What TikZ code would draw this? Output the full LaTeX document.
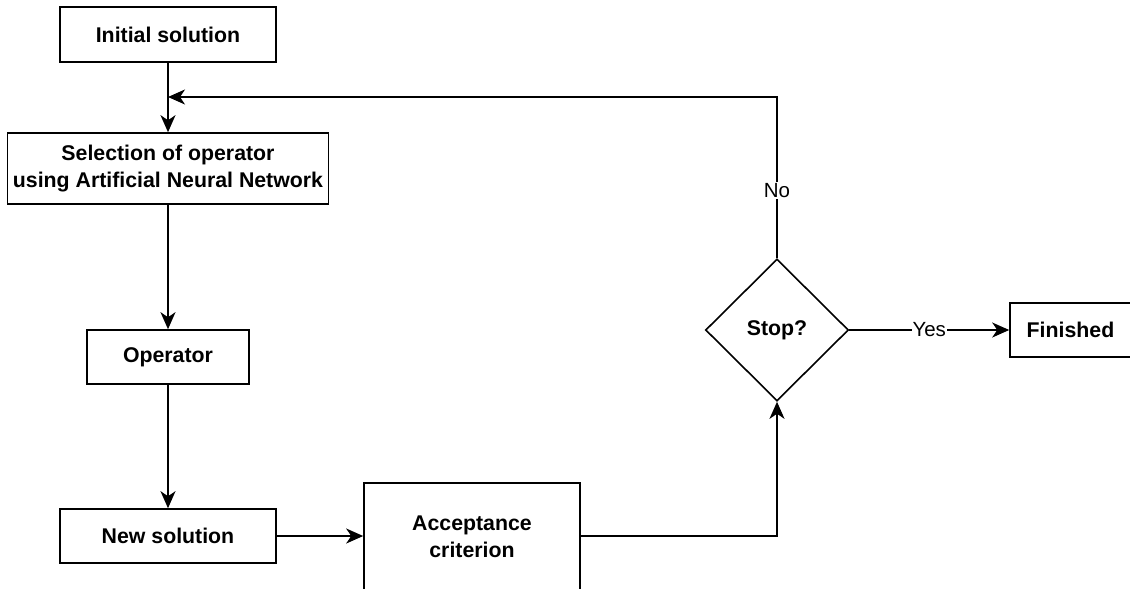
\documentclass[tikz,border=0pt]{standalone}
\usepackage{fontspec}
\setmainfont{Liberation Sans}
\usetikzlibrary{shapes.geometric,arrows.meta}
\begin{document}
\begin{tikzpicture}[x=1pt,y=-1pt,
  box/.style={draw=black,line width=1.6pt,fill=white,inner sep=0pt,align=center,
    font=\fontsize{21.3}{27}\selectfont\bfseries},
  decision/.style={diamond,draw=black,line width=1.6pt,fill=white,inner sep=0pt,
    minimum width=143pt,minimum height=142pt,font=\fontsize{21.3}{27}\selectfont\bfseries},
  conn/.style={line width=1.6pt,-{Stealth[length=17pt,width=15pt,inset=5pt]}},
  lbl/.style={fill=white,inner sep=1pt,font=\fontsize{20.5}{24}\selectfont}]
\useasboundingbox (0,0) rectangle (1130,589);
\clip (0,0) rectangle (1130,589);
\node[box,minimum width=216pt,minimum height=55pt] (init) at (168,34.5) {Initial solution};
\node[box,minimum width=321pt,minimum height=71pt] (sel) at (168,168.5) {Selection of operator\\using Artificial Neural Network};
\node[box,minimum width=162pt,minimum height=54pt] (op) at (168,357) {Operator};
\node[box,minimum width=216pt,minimum height=54pt] (new) at (168,536) {New solution};
\node[box,minimum width=216pt,minimum height=108pt] (acc) at (472,537) {Acceptance\\criterion};
\node[decision] (dia) at (777,330) {Stop?};
\node[box,minimum width=121pt,minimum height=54pt] (fin) at (1070.5,330) {Finished};
\coordinate (mrg) at (168,97);
\draw[conn] (init) -- (sel);
\draw[conn] (sel) -- (op);
\draw[conn] (op) -- (new);
\draw[conn] (new) -- (acc.west |- new.east);
\draw[conn] (acc.east |- new.east) -| (dia.south);
\draw[conn] (dia.east) -- node[lbl] {Yes} (fin.west);
\draw[conn] (dia.north) |- node[lbl,pos=0.21] {No} (mrg);
\end{tikzpicture}
\end{document}
